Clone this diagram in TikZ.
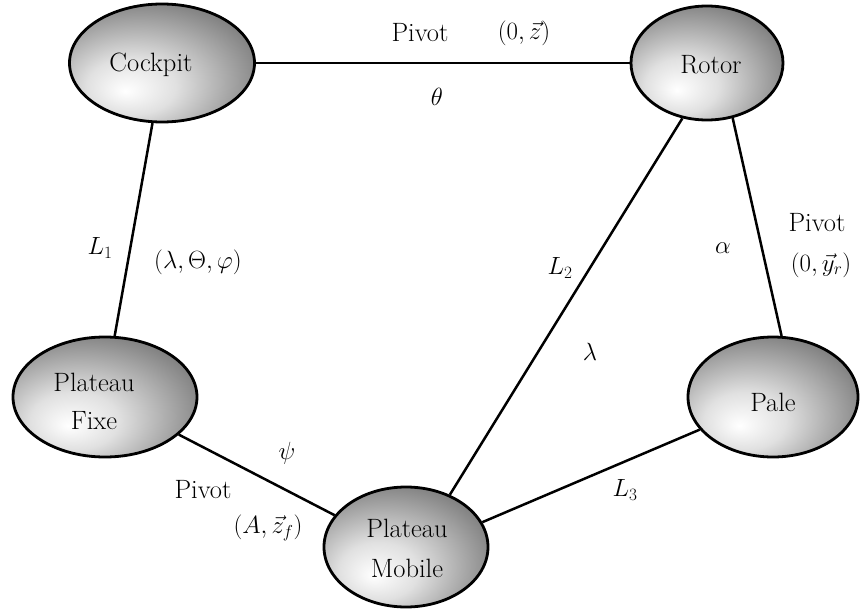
\documentclass[tikz,border=0pt]{standalone}
\usetikzlibrary{shapes.geometric}
\pgfdeclareradialshading{myball}{\pgfpoint{-10bp}{-12bp}}{%
  color(0bp)=(white);
  color(12bp)=(white!88!black);
  color(25bp)=(white!65!black);
  color(38bp)=(white!42!black);
  color(50bp)=(white!22!black);
  color(72bp)=(white!12!black)}
\tikzset{
  ell/.style={ellipse, draw=black, line width=2.8pt, shading=myball, inner sep=0pt},
  conn/.style={line width=2.5pt},
  lab/.style={font=\fontsize{26.5}{32}\selectfont, inner sep=0pt}
}
\begin{document}
\begin{tikzpicture}[x=1pt,y=-1pt]
\useasboundingbox (0,0) rectangle (863,610);
\node[ell, minimum width=185pt, minimum height=118pt] (cockpit) at (162,63) {};
\node[lab] (tcockpit) at (151,65) {Cockpit};
\node[ell, minimum width=152pt, minimum height=114pt] (rotor) at (707,63) {};
\node[lab] (trotor) at (711,65) {Rotor};
\node[ell, minimum width=184pt, minimum height=120pt] (pf) at (105,397) {};
\node[lab, align=center, font=\fontsize{26.5}{38}\selectfont] (tpf) at (94,401) {Plateau\\Fixe};
\node[ell, minimum width=164pt, minimum height=120pt] (pm) at (406,547) {};
\node[lab, align=center, font=\fontsize{26.5}{40}\selectfont] (tpm) at (407,548) {Plateau\\Mobile};
\node[ell, minimum width=170pt, minimum height=120pt] (pale) at (773,397) {};
\node[lab] (tpale) at (773,402) {Pale};

\draw[conn] (cockpit.east) -- (rotor.west);
\draw[conn] (cockpit.-99) -- (pf.81);
\draw[conn] (rotor.-114) -- (pm.50);
\draw[conn] (rotor.-65) -- (pale.82);
\draw[conn] (pf.-27) -- (pm.156);
\draw[conn] (pale.204) -- (pm.18);

\node[lab] (l1) at (420,33) {Pivot};
\node[lab] (l2) at (524,33) {$(0,\vec{z})$};
\node[lab] (l3) at (437,97) {$\theta$};
\node[lab] (l4) at (100,248) {$L_1$};
\node[lab] (l5) at (198,262) {$(\lambda,\Theta,\varphi)$};
\node[lab] (l6) at (560,268) {$L_2$};
\node[lab] (l7) at (590,352) {$\lambda$};
\node[lab] (l8) at (723,248) {$\alpha$};
\node[lab] (l9) at (817,223) {Pivot};
\node[lab] (l10) at (821,265) {$(0,\vec{y}_r)$};
\node[lab] (l11) at (287,453) {$\psi$};
\node[lab] (l12) at (203,490) {Pivot};
\node[lab] (l13) at (268,528) {$(A,\vec{z}_f)$};
\node[lab] (l14) at (625,490) {$L_3$};
\end{tikzpicture}
\end{document}
